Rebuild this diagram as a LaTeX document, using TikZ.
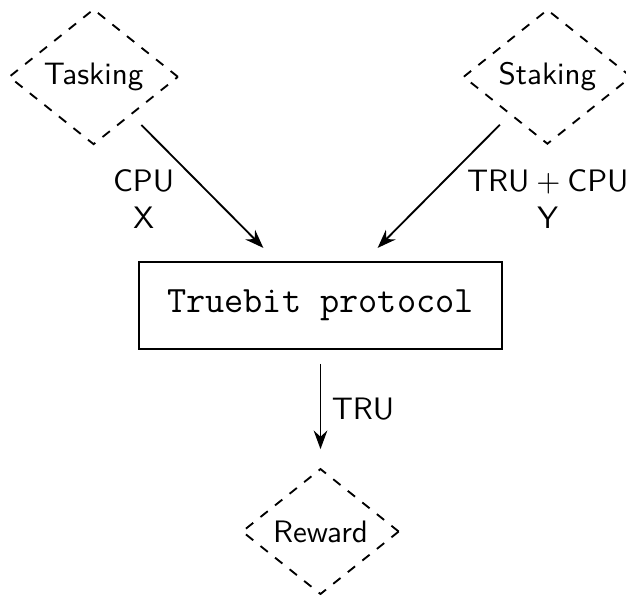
\documentclass[tikz,border=0pt]{standalone}
\usepackage{amsmath}
\usetikzlibrary{shapes.geometric,arrows.meta}

\begin{document}
\begin{tikzpicture}[font=\sffamily, semithick,
        >={Stealth[length=6pt,width=4.4pt,inset=2pt]},
        party/.style={diamond, draw, dashed, aspect=1.25, inner sep=2.5pt},
        flow/.style={->, shorten <=4.5pt, shorten >=6pt}]
        \useasboundingbox (-3.63,-3.31) rectangle (3.46,3.46);
        \node[draw, font=\large\ttfamily, inner sep=9pt] (protocol) at (0,0) {Truebit protocol};
        \node[party] (tasking) at (-2.57,2.59) {Tasking};
        \node[party] (staking) at (2.57,2.59) {Staking};
        \node[party] (reward) at (0,-2.56) {Reward};
        \draw[flow] (tasking) -- node[left=6pt, yshift=-3.5pt, align=center] {CPU\\X} (protocol);
        \draw[flow] (staking) -- node[right=6pt, yshift=-3.5pt, align=center] {TRU${}+{}$CPU\\Y} (protocol);
        \draw[flow] (protocol) -- node[right] {TRU} (reward);
    \end{tikzpicture}
\end{document}
